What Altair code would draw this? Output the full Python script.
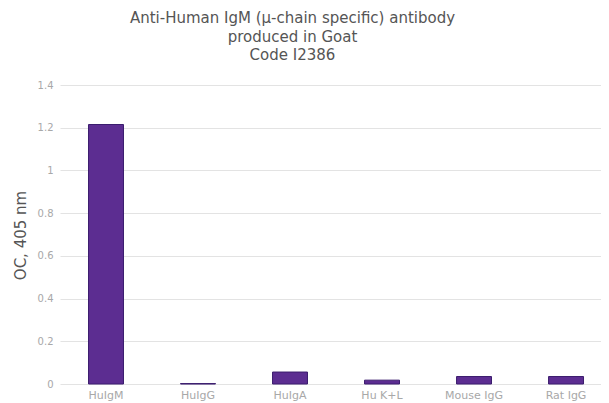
import altair as alt
import pandas as pd

categories = ["HuIgM", "HuIgG", "HuIgA", "Hu K+L", "Mouse IgG", "Rat IgG"]
values = [1.215, 0.002, 0.056, 0.018, 0.035, 0.035]
y_ticks = [0, 0.2, 0.4, 0.6, 0.8, 1, 1.2, 1.4]
title_lines = ["Anti-Human IgM (\u03bc-chain specific) antibody", "produced in Goat", "Code I2386"]

df = pd.DataFrame({"sample": categories, "od": values})

FONT = "DejaVu Sans"

chart = alt.Chart(df).mark_bar(
    color="#5c2d91", stroke="#3b1d6e", strokeWidth=1
).encode(
    x=alt.X("sample:N", sort=categories, title=None,
            scale=alt.Scale(paddingInner=0.62, paddingOuter=0.25, align=0.62),
            axis=alt.Axis(labelAngle=0, labelFont=FONT, labelFontSize=11, labelColor="#a8a8a8",
                          labelPadding=5, ticks=False, domain=False, grid=False)),
    y=alt.Y("od:Q", title="OC, 405 nm",
            scale=alt.Scale(domain=[0, 1.4], nice=False),
            axis=alt.Axis(values=y_ticks, format="~g", labelFont=FONT, labelFontSize=10,
                          labelColor="#a8a8a8", labelPadding=7, ticks=False, domain=False,
                          grid=True, gridColor="#e3e3e3", gridWidth=1.2,
                          titleFont=FONT, titleFontSize=15, titleFontWeight="normal",
                          titleColor="#555555", titleX=-40, titleY=150,
                          titleAngle=270, titleBaseline="middle", titleAlign="center")),
).properties(
    width=541, height=299,
    title=alt.TitleParams(text=title_lines, font=FONT, fontSize=15, fontWeight="normal",
                          color="#555555", anchor="middle", frame="group", dx=-38,
                          lineHeight=18.5, offset=17),
    autosize=alt.AutoSizeParams(type="none"),
    padding={"left": 52, "top": 77, "right": 0, "bottom": 20},
).configure_view(stroke=None)

chart.save("out.html", embed_options={"renderer": "svg", "actions": False})
